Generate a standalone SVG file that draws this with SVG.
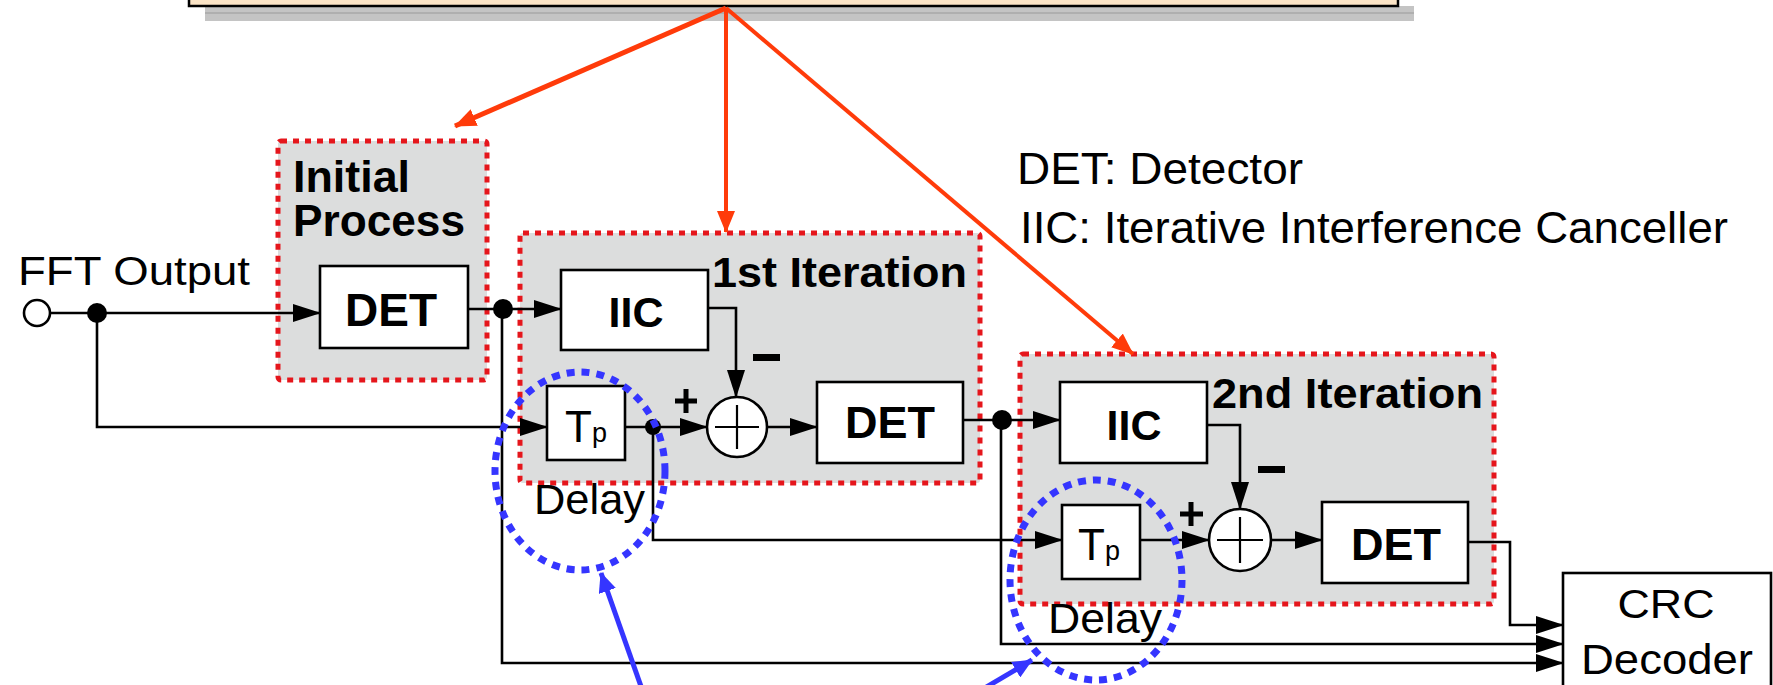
<svg xmlns="http://www.w3.org/2000/svg" width="1773" height="685" viewBox="0 0 1773 685">
<defs>
<marker id="ah" markerUnits="userSpaceOnUse" markerWidth="28" markerHeight="18" refX="27" refY="9" orient="auto"><path d="M0,0 L28,9 L0,18 z" fill="#000"/></marker>
<marker id="rh" markerUnits="userSpaceOnUse" markerWidth="22" markerHeight="18" refX="21" refY="9" orient="auto"><path d="M0,0 L22,9 L0,18 z" fill="#ff3b0a"/></marker>
<marker id="bh" markerUnits="userSpaceOnUse" markerWidth="20" markerHeight="18" refX="19" refY="9" orient="auto"><path d="M0,0 L20,9 L0,18 z" fill="#3535ff"/></marker>
</defs>
<style>
.wire{fill:none;stroke:#000;stroke-width:2.6}
.box{fill:#fff;stroke:#000;stroke-width:2.6}
.grp{fill:#dcdddd;stroke:#e5161c;stroke-width:5;stroke-dasharray:6 6}
.circ{fill:none;stroke:#3535ff;stroke-width:7;stroke-dasharray:8 7}
.red{stroke:#ff3b0a;stroke-width:4;fill:none}
.blue{stroke:#3535ff;stroke-width:5;fill:none}
.t{font-family:"Liberation Sans",Arial,sans-serif;fill:#000}
.b{font-weight:bold}
.dot{fill:#000}
.sign{fill:none;stroke:#000;stroke-width:5}
</style>
<rect width="1773" height="685" fill="#fff"/>

<g id="top-box">
<rect x="205" y="6" width="1209" height="15" fill="#c4c4c4"/>
<line x1="205" y1="13" x2="1414" y2="13" stroke="#9a9a9a" stroke-width="1"/>
<rect x="189" y="-10" width="1209" height="16" fill="#fbe4c6" stroke="#000" stroke-width="2.5"/>
</g>

<g id="group-initial"><rect class="grp" x="278" y="141" width="209" height="239" rx="3"/>
<text class="t b" x="293" y="192" font-size="45" textLength="117" lengthAdjust="spacingAndGlyphs">Initial</text>
<text class="t b" x="293" y="236" font-size="44" textLength="172" lengthAdjust="spacingAndGlyphs">Process</text></g>
<g id="group-iter1"><rect class="grp" x="520" y="233" width="460" height="250" rx="3"/>
<text class="t b" x="712" y="287" font-size="42" textLength="255" lengthAdjust="spacingAndGlyphs">1st Iteration</text></g>
<g id="group-iter2"><rect class="grp" x="1020" y="354" width="474" height="250" rx="3"/>
<text class="t b" x="1212" y="408" font-size="42" textLength="271" lengthAdjust="spacingAndGlyphs">2nd Iteration</text></g>

<g id="legend">
<text class="t" x="1017" y="184" font-size="45" textLength="286" lengthAdjust="spacingAndGlyphs">DET: Detector</text>
<text class="t" x="1020" y="243" font-size="45" textLength="708" lengthAdjust="spacingAndGlyphs">IIC: Iterative  Interference  Canceller</text>
</g>

<g id="connectors">
<path class="wire" d="M50,313 H320" marker-end="url(#ah)"/>
<path class="wire" d="M97,313 V427 H547" marker-end="url(#ah)"/>
<path class="wire" d="M468,309 H561" marker-end="url(#ah)"/>
<path class="wire" d="M502,309 V663 H1563" marker-end="url(#ah)"/>
<path class="wire" d="M708,308 H736 V397" marker-end="url(#ah)"/>
<path class="wire" d="M625,427 H707" marker-end="url(#ah)"/>
<path class="wire" d="M653,427 V540 H1062" marker-end="url(#ah)"/>
<path class="wire" d="M767,427 H817" marker-end="url(#ah)"/>
<path class="wire" d="M963,420 H1060" marker-end="url(#ah)"/>
<path class="wire" d="M1001,420 V644 H1563" marker-end="url(#ah)"/>
<path class="wire" d="M1207,425 H1240 V509" marker-end="url(#ah)"/>
<path class="wire" d="M1140,540 H1209" marker-end="url(#ah)"/>
<path class="wire" d="M1271,540 H1322" marker-end="url(#ah)"/>
<path class="wire" d="M1468,542 H1510 V625 H1563" marker-end="url(#ah)"/>
<circle class="dot" cx="97" cy="313" r="10"/>
<circle class="dot" cx="503" cy="309" r="10"/>
<circle class="dot" cx="653" cy="427" r="8"/>
<circle class="dot" cx="1002" cy="420" r="10"/>
</g>

<g id="fft-output">
<circle cx="37" cy="313" r="13" fill="#fff" stroke="#000" stroke-width="2.6"/>
<text class="t" x="18" y="285" font-size="40" textLength="232" lengthAdjust="spacingAndGlyphs">FFT Output</text>
</g>

<g id="det0"><rect class="box" x="320" y="266" width="148" height="82"/>
<text class="t b" x="391" y="326" font-size="46" text-anchor="middle">DET</text></g>

<g id="iic1"><rect class="box" x="561" y="270" width="147" height="80"/>
<text class="t b" x="636" y="327" font-size="43" text-anchor="middle">IIC</text></g>

<g id="tp1"><rect class="box" x="547" y="386" width="78" height="74"/>
<text class="t" x="565" y="442" font-size="44">T<tspan font-size="27">p</tspan></text></g>

<g id="adder1"><circle cx="737" cy="427" r="30" fill="#fff" stroke="#000" stroke-width="2.6"/>
<path d="M715,427 H759 M737,405 V449" stroke="#000" stroke-width="2.2"/>
<path class="sign" d="M675,401 H697 M686,389 V413"/>
<rect x="753" y="354" width="27" height="7" fill="#000"/></g>

<g id="det1"><rect class="box" x="817" y="382" width="146" height="81"/>
<text class="t b" x="890" y="438" font-size="45" text-anchor="middle">DET</text></g>

<g id="delay1"><text class="t" x="534" y="514" font-size="43" textLength="111" lengthAdjust="spacingAndGlyphs">Delay</text></g>

<g id="iic2"><rect class="box" x="1060" y="382" width="147" height="81"/>
<text class="t b" x="1134" y="440" font-size="43" text-anchor="middle">IIC</text></g>

<g id="tp2"><rect class="box" x="1062" y="505" width="78" height="74"/>
<text class="t" x="1078" y="560" font-size="44">T<tspan font-size="27">p</tspan></text></g>

<g id="adder2"><circle cx="1240" cy="540" r="31" fill="#fff" stroke="#000" stroke-width="2.6"/>
<path d="M1217,540 H1263 M1240,517 V563" stroke="#000" stroke-width="2.2"/>
<path class="sign" d="M1180,514 H1203 M1191,502 V526"/>
<rect x="1258" y="466" width="27" height="7" fill="#000"/></g>

<g id="det2"><rect class="box" x="1322" y="502" width="146" height="81"/>
<text class="t b" x="1396" y="560" font-size="45" text-anchor="middle">DET</text></g>

<g id="delay2"><text class="t" x="1048" y="633" font-size="43" textLength="114" lengthAdjust="spacingAndGlyphs">Delay</text></g>

<g id="crc"><rect class="box" x="1563" y="573" width="208" height="130"/>
<text class="t" x="1666" y="618" font-size="41" text-anchor="middle" textLength="97" lengthAdjust="spacingAndGlyphs">CRC</text>
<text class="t" x="1667" y="674" font-size="43" text-anchor="middle" textLength="172" lengthAdjust="spacingAndGlyphs">Decoder</text></g>

<g id="delay-highlights">
<ellipse class="circ" cx="580" cy="471" rx="85" ry="99"/>
<ellipse class="circ" cx="1096" cy="580" rx="86" ry="100"/>
</g>

<g id="annotation-arrows">
<path class="red" style="stroke-width:5" d="M726,8 L455,126" marker-end="url(#rh)"/>
<path class="red" d="M726,8 V232" marker-end="url(#rh)"/>
<path class="red" d="M726,8 L1133,354" marker-end="url(#rh)"/>
<path class="blue" d="M643,692 L601,573" marker-end="url(#bh)"/>
<path class="blue" d="M978,692 L1032,660" marker-end="url(#bh)"/>
</g>
</svg>
